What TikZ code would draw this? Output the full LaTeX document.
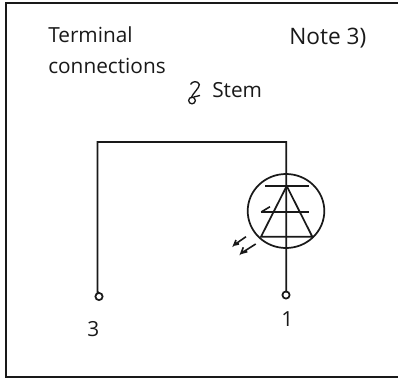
\documentclass[tikz,border=0pt]{standalone}
\usepackage{fontspec}
\setmainfont{Open Sans}
\begin{document}
\begin{tikzpicture}[x=0.75pt,y=-0.75pt,
  wire/.style={draw=black!90!white,line width=1.4pt},
  sym/.style={draw=black!90!white,line width=1.3pt},
  term/.style={circle,draw=black!90!white,line width=1.3pt,inner sep=0pt,minimum size=5.4pt,fill=white},
  lab/.style={inner sep=0pt,font=\fontsize{15.6}{18}\selectfont,text=black!90!white,anchor=base west,align=left}]
\useasboundingbox (0,0) rectangle (398,378);
\draw[line width=1.5pt,draw=black!90!white] (398,3.5) -- (6,3.5) -- (6,377) -- (398,377);
\node[lab] (t1) at (48,42.5) {Terminal};
\node[lab] (t2) at (48,73) {connections};
\node[lab,font=\fontsize{17}{20}\selectfont] (note) at (289,45) {Note 3)};
\node[lab,font=\fontsize{15.6}{18}\selectfont] (stem) at (212,97) {Stem};
\node[lab] (n3) at (87,336) {3};
\node[lab] (n1) at (281,326) {1};
\node[term] (a) at (99,296.5) {};
\node[term] (k) at (286,295) {};
\node[term,minimum size=5pt,line width=1pt] (s) at (192,100.5) {};
\coordinate (c1) at (97.5,142);
\coordinate (c2) at (286.3,142);
\draw[wire] (a.north) -- (97.5,293) -- (c1) -- (c2) -- (286.3,292.4);
% stem symbol
\draw[sym,line width=1pt] (190.5,84.5) .. controls (192,81) and (198,80.5) .. (199.3,84.5) .. controls (199.5,88) and (193,93) .. (191,98);
\draw[sym,line width=1pt] (193.5,97) -- (200,95.5);
% LED
\draw[sym] (286,211) ellipse [x radius=38.3,y radius=37];
\coordinate (apex) at (286.7,186);
\coordinate (bl) at (261,236.7);
\coordinate (br) at (312.3,236.7);
\draw[sym] (bl) -- (apex) -- (br) -- cycle;
\draw[sym,line width=1.7pt] (265,186) -- (309,186);
\draw[sym] (260.7,212.3) -- (309,212.3);
\draw[sym,line width=1.2pt] (270,206.7) -- (261.7,211.7);
\draw[sym,line width=1.2pt] (246,236.7) -- (234,245) -- (236,240) (234,245) -- (239,244);
\draw[sym,line width=1.2pt] (255.7,244) -- (241,253.3) -- (243.3,247.3) (241,253.3) -- (247.3,251.7);
\end{tikzpicture}
\end{document}
